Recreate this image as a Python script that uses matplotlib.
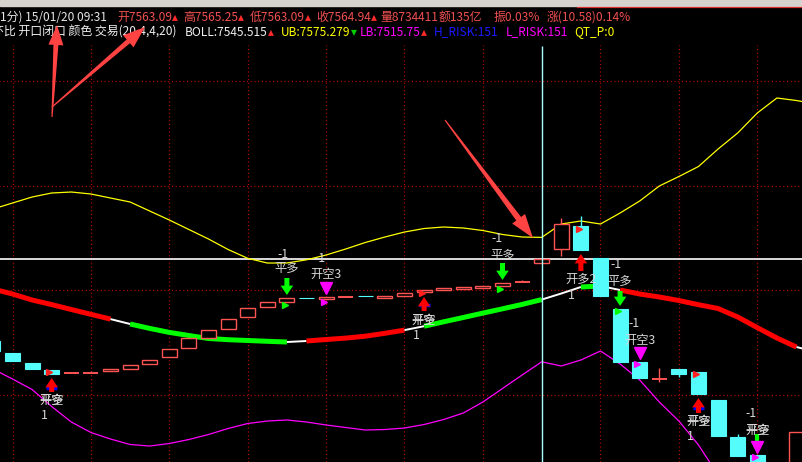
import numpy as np
import matplotlib
matplotlib.use('Agg')
import matplotlib.pyplot as plt
from matplotlib.patches import Polygon, Rectangle

FONT = ['Noto Sans CJK SC', 'DejaVu Sans']
plt.rcParams['font.family'] = FONT

# candle index -1..40 (1 minute bars)
idx = np.arange(-1, 41)
opens = [7525.70, 7519.96, 7515.18, 7511.83, 7510.39, 7510.39, 7511.35, 7512.30, 7514.70, 7518.05,
         7522.35, 7527.14, 7531.44, 7537.19, 7541.97, 7544.36, 7546.40, 7545.80, 7546.75, 7547.35,
         7546.28, 7547.23, 7549.15, 7550.10, 7550.58, 7551.06, 7552.02, 7553.93, 7563.09, 7569.72,
         7580.73, 7565.41, 7541.01, 7515.65, 7507.52, 7512.30, 7510.87, 7497.47, 7479.77, 7471.16,
         7461.00, 7455.00]
highs = [7525.70, 7519.96, 7515.18, 7511.83, 7510.39, 7511.35, 7512.30, 7514.22, 7516.61, 7521.87,
         7527.14, 7530.96, 7536.23, 7541.49, 7544.36, 7546.28, 7546.40, 7546.75, 7547.23, 7547.35,
         7547.23, 7548.67, 7550.10, 7551.06, 7551.54, 7552.02, 7553.45, 7554.89, 7565.25, 7584.55,
         7585.51, 7565.41, 7541.01, 7515.65, 7512.78, 7512.30, 7510.87, 7497.47, 7481.20, 7471.16,
         7461.00, 7482.16]
lows = [7520.92, 7516.13, 7512.30, 7509.91, 7510.39, 7510.39, 7511.35, 7512.30, 7514.70, 7518.05,
        7522.35, 7527.14, 7531.44, 7537.19, 7541.97, 7544.36, 7546.28, 7545.80, 7546.75, 7547.23,
        7546.28, 7547.23, 7549.15, 7550.10, 7550.58, 7551.06, 7552.02, 7553.93, 7563.09, 7566.37,
        7569.24, 7547.23, 7515.65, 7508.00, 7506.08, 7508.48, 7500.34, 7480.25, 7470.68, 7462.00,
        7455.00, 7455.00]
closes = [7520.92, 7516.13, 7512.30, 7509.91, 7510.39, 7510.39, 7512.30, 7514.22, 7516.61, 7521.87,
          7527.14, 7530.96, 7536.23, 7541.49, 7544.36, 7546.28, 7546.28, 7546.75, 7546.75, 7547.23,
          7547.23, 7548.67, 7550.10, 7551.06, 7551.54, 7552.02, 7553.45, 7553.93, 7564.94, 7581.68,
          7569.24, 7547.23, 7515.65, 7508.00, 7507.52, 7509.91, 7500.34, 7480.25, 7470.68, 7462.00,
          7455.00, 7482.16]

# BOLL bands, index -1..41
band_idx = np.arange(-1, 42)
ub = [7588.86, 7591.73, 7594.60, 7596.52, 7596.99, 7596.04, 7594.12, 7592.21, 7587.90, 7583.60,
      7579.05, 7574.51, 7569.48, 7565.27, 7563.02, 7563.02, 7564.55, 7566.85, 7569.72, 7572.83,
      7575.46, 7577.85, 7579.53, 7580.25, 7579.77, 7578.57, 7576.66, 7575.46, 7575.28, 7581.68,
      7583.12, 7581.68, 7586.95, 7592.69, 7599.86, 7604.41, 7609.20, 7617.57, 7625.22, 7634.79,
      7641.97, 7640.77, 7639.10]
boll = [7550.58, 7548.19, 7545.32, 7543.12, 7540.77, 7538.48, 7536.18, 7533.84, 7531.73, 7529.82,
        7528.33, 7526.90, 7526.33, 7525.94, 7525.56, 7525.22, 7525.70, 7526.42, 7527.09, 7528.00,
        7529.39, 7530.92, 7532.78, 7534.89, 7536.95, 7539.05, 7541.11, 7543.21, 7545.52, 7548.43,
        7551.54, 7552.02, 7550.10, 7548.19, 7546.75, 7545.08, 7543.07, 7541.25, 7537.19, 7532.11,
        7527.14, 7522.83, 7520.44]
lb = [7512.30, 7507.52, 7502.50, 7494.36, 7486.95, 7481.92, 7478.81, 7476.18, 7475.46, 7476.66,
      7478.57, 7480.96, 7483.84, 7486.23, 7487.42, 7487.90, 7486.95, 7485.51, 7484.31, 7483.12,
      7483.36, 7484.07, 7485.75, 7488.14, 7491.25, 7496.52, 7502.97, 7509.43, 7515.75, 7513.74,
      7516.61, 7520.92, 7514.70, 7507.04, 7496.52, 7487.42, 7475.94, 7461.59, 7450.00]

# colour runs of the BOLL middle line (start index, end index, colour)
boll_runs = [(-1, 5, 'red'), (5, 6, 'white'), (6, 14, 'green'), (14, 15, 'white'),
             (15, 20, 'red'), (20, 21, 'white'), (21, 27, 'green'), (27, 29, 'white'),
             (29, 30, 'green'), (30, 31, 'white'), (31, 40, 'red'), (40, 41, 'white')]

# signals
up_arrows = [(2, 7501.30, 7508.00), (21, 7540.06, 7546.75), (29, 7559.19, 7567.33), (35, 7491.25, 7498.43)]
blue_bars = [(2, 7503.21), (21, 7542.93), (35, 7493.64)]
down_arrows = [(14, 7555.85, 7547.71), (25, 7563.02, 7554.89), (31, 7549.63, 7542.45)]
short_tri = [(16, 7551.06), (32, 7519.96), (38, 7475.22)]
flags = [(2, 7511.83, '#ff2020'), (14, 7543.88, '#00ff00'), (16, 7545.32, '#ff00ff'),
         (21, 7549.63, '#ff2020'), (25, 7551.54, '#00ff00'), (29, 7580.25, '#ff2020'),
         (31, 7541.01, '#00ff00'), (32, 7515.65, '#ff00ff'), (35, 7510.87, '#ff2020'),
         (38, 7471.16, '#ff00ff')]
labels = [(2, 7497.47, '开多'), (2, 7497.47, '平空'), (1.6, 7489.82, '1'),
          (13.8, 7567.33, '-1'), (14, 7560.63, '平多'),
          (15.7, 7565.41, '-1'), (16, 7557.76, '开空3'),
          (21, 7535.75, '开多'), (21, 7535.75, '平空'), (20.6, 7528.57, '1'),
          (24.7, 7574.98, '-1'), (25, 7566.85, '平多'),
          (29, 7555.37, '开多2'), (28.5, 7547.71, '1'),
          (30.8, 7562.07, '-1'), (31, 7554.41, '平多'),
          (31.7, 7534.31, '-1'), (32, 7526.18, '开空3'),
          (35, 7487.42, '开多'), (35, 7487.42, '平空'), (34.6, 7480.25, '1'),
          (37.7, 7491.25, '-1'), (38, 7483.12, '开空'), (38, 7483.12, '平多')]

last_close = 7564.94
cursor_i = 27
grid_i = [0, 4, 8, 12, 16, 20, 24, 30, 34, 38]
grid_p = [7500, 7550, 7600, 7650]

RED = '#ff5454'
CYAN = '#54fcfc'

fig = plt.figure(figsize=(8.03, 4.62), dpi=100)
fig.patch.set_facecolor('black')
ax = fig.add_axes([0, 0, 1, 1])
ax.set_facecolor('black')
ax.set_xlim(-0.638, 40.332)
ax.set_ylim(7467.81, 7688.86)
ax.axis('off')

# grid
ax.vlines(grid_i, 7467.81, 7667.3, colors='#c80000', lw=0.9, linestyles=(0, (0.8, 2.2)))
ax.hlines(grid_p, -1, 41, colors='#c80000', lw=0.9, linestyles=(0, (0.8, 2.2)))
ax.axhline(last_close, color='white', lw=1.2, zorder=2)
ax.vlines(cursor_i, 7467.81, 7666.9, colors='#a8ffff', lw=1.0, zorder=6)

# bands
ax.plot(band_idx, ub, color='#ffff00', lw=0.9, zorder=3)
ax.plot(band_idx[:len(lb)], lb, color='#ff00ff', lw=0.9, zorder=3)
for a, b, c in boll_runs:
    s = slice(a + 1, b + 2)
    w = 1.4 if c == 'white' else 3.6
    col = {'red': '#ff0000', 'green': '#00ff00', 'white': '#ffffff'}[c]
    ax.plot(band_idx[s], boll[s], color=col, lw=w, solid_capstyle='butt', zorder=3)

# candles
bw = 0.77
for i, o, h, l, c in zip(idx, opens, highs, lows, closes):
    if c > o:
        ax.vlines(i, l, h, colors=RED, lw=1.0, zorder=4)
        ax.bar(i, c - o, bw, bottom=o, facecolor='black', edgecolor=RED, lw=1.0, zorder=5)
    elif c < o:
        ax.vlines(i, l, h, colors=CYAN, lw=1.0, zorder=4)
        ax.bar(i, o - c, bw, bottom=c, facecolor=CYAN, edgecolor=CYAN, lw=0.8, zorder=5)
    else:
        ax.vlines(i, l, h, colors=RED, lw=1.0, zorder=4)
        ax.hlines(o, i - bw / 2, i + bw / 2, colors=RED, lw=1.4, zorder=5)

# signals
for i, p in blue_bars:
    ax.hlines(p, i - 0.28, i + 0.28, colors='#0000ff', lw=2.5, zorder=7)
for i, base, tip in up_arrows:
    ax.annotate('', xy=(i, tip), xytext=(i, base), zorder=8,
                arrowprops=dict(arrowstyle='simple,head_width=1.0,head_length=0.75,tail_width=0.4',
                                color='#ff0000', mutation_scale=9, shrinkA=0, shrinkB=0, lw=0))
for i, base, tip in down_arrows:
    ax.annotate('', xy=(i, tip), xytext=(i, base), zorder=8,
                arrowprops=dict(arrowstyle='simple,head_width=1.0,head_length=0.75,tail_width=0.4',
                                color='#00ff00', mutation_scale=9, shrinkA=0, shrinkB=0, lw=0))
ax.vlines(38, 7477.9, 7481.2, colors='#00ff00', lw=3, zorder=7)
for i, p in short_tri:
    ax.plot(i, p, marker='v', ms=8.5, color='#ff00ff', mec='#ff00ff', zorder=8)
for i, p, c in flags:
    ax.plot(i - 0.12, p - 0.9, marker='>', ms=4, color=c, mec=c, zorder=8)
for i, p, s in labels:
    ax.text(i, p, s, color='#d8d8d8', fontsize=8.8, ha='center', va='center', zorder=9, family=FONT)

# overlay in pixel space: header and hand-drawn arrows
ov = fig.add_axes([0, 0, 1, 1])
ov.set_xlim(0, 803)
ov.set_ylim(462, 0)
ov.axis('off')
ov.patch.set_alpha(0)
ov.add_patch(Rectangle((0, 0), 803, 5.5, color='#d6d3ce', zorder=1))
ov.plot([577, 803], [7, 7], color='#d83030', lw=0.9)

r = fig.canvas.get_renderer()


def chain(x, y, parts):
    for s, c in parts:
        t = ov.text(x, y, s, color=c, fontsize=8.6, ha='left', va='center', family=FONT)
        x = t.get_window_extent(renderer=r).x1


HRED = '#f05050'
TRI = '#ff2a2a'
line1 = [(0, [('1分) 15/01/20 09:31', '#e6e6e6')]),
         (117, [('开7563.09', HRED), ('▴', TRI)]),
         (183, [('高7565.25', HRED), ('▴', TRI)]),
         (250, [('低7563.09', HRED), ('▴', TRI)]),
         (316, [('收7564.94', HRED), ('▴', TRI)]),
         (380, [('量8734411', HRED)]),
         (439, [('额135亿', HRED)]),
         (494, [('振0.03%', HRED)]),
         (547, [('涨(10.58)0.14%', HRED)])]
line2 = [(-8, [('环比 开口闭口 颜色 交易(20,4,4,20)', '#f0f0f0')]),
         (185, [('BOLL:7545.515', '#f0f0f0'), ('▴', TRI)]),
         (281, [('UB:7575.279', '#ffff00'), ('▾', '#00d000')]),
         (360, [('LB:7515.75', '#ff00ff'), ('▴', TRI)]),
         (434, [('H_RISK:151', '#1a1aff')]),
         (506, [('L_RISK:151', '#ff00ff')]),
         (574, [('QT_P:0', '#ffff00')])]
for x, parts in line1:
    chain(x, 17, parts)
for x, parts in line2:
    chain(x, 32, parts)


def hand_arrow(tail, tip, hl, hw, sw):
    tail = np.array(tail, float)
    tip = np.array(tip, float)
    u = (tip - tail) / np.hypot(*(tip - tail))
    n = np.array([-u[1], u[0]])
    b = tip - u * hl
    pts = [tail + n * 0.6, b + n * sw / 2, b + n * hw / 2, tip,
           b - n * hw / 2, b - n * sw / 2, tail - n * 0.6]
    ov.add_patch(Polygon(pts, closed=True, color='#ff4242', lw=0, zorder=10))


hand_arrow((52, 117), (57, 25), 20, 15, 5)
hand_arrow((52, 107), (145, 27), 22, 16, 5)
hand_arrow((445, 120), (533, 238), 24, 16, 6)

fig.savefig('out.png', dpi=100, facecolor='black')
